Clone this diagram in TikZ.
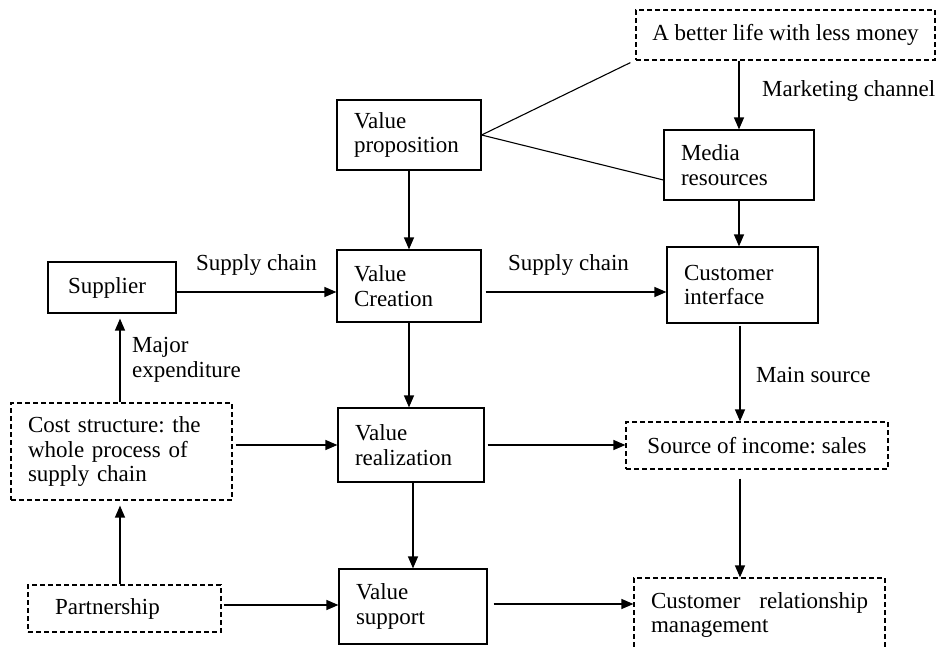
\documentclass[tikz,border=0pt]{standalone}
\usepackage{fontspec}
\setmainfont{Liberation Serif}
\usetikzlibrary{arrows.meta,calc}
\begin{document}
\frenchspacing
\begin{tikzpicture}[x=1pt,y=-1pt,
  font=\fontsize{23}{24.5}\selectfont\frenchspacing,
  box/.style={draw, line width=1.2pt, align=left, inner xsep=17pt, inner ysep=0pt},
  dbox/.style={box, dash pattern=on 5pt off 3pt},
  lbl/.style={inner sep=0pt, align=left, anchor=west},
  arr/.style={-{Triangle[length=12pt,width=10pt]}, line width=1.3pt},
  ln/.style={line width=1.1pt}]
\useasboundingbox (0,0) rectangle (938,646);

% boxes
\node[dbox, minimum width=299pt, minimum height=50pt, inner xsep=0pt] (better) at (785.5,35) {A better life with less money};
\node[box, text width=110pt, minimum height=70pt] (prop) at (409,135) {Value\\proposition};
\node[box, text width=116pt, minimum height=70pt] (media) at (739,165) {Media\\resources};
\node[box, text width=88pt, inner xsep=20pt, minimum height=51pt] (supplier) at (112,287.5) {Supplier};
\node[box, text width=110pt, minimum height=72pt] (creation) at (409,286) {Value\\Creation};
\node[box, text width=117pt, minimum height=76pt] (cinterface) at (742.5,285) {Customer\\interface};
\node[dbox, text width=187pt, minimum height=97pt] (cost) at (121.5,451.5) {Cost structure: the\\whole process of\\supply chain};
\node[box, text width=112pt, minimum height=74pt] (realization) at (411,445) {Value\\realization};
\node[dbox, minimum width=262pt, minimum height=47pt, inner xsep=0pt] (income) at (757,445.5) {Source of income: sales};
\node[dbox, text width=139pt, inner xsep=27pt, minimum height=47pt] (partner) at (124.5,608.5) {Partnership};
\node[box, text width=114pt, minimum height=75pt] (support) at (413,606.5) {Value\\support};
\node[dbox, text width=217pt, align=justify, minimum height=74pt] (crm) at (759.5,615) {Customer relationship management};

% labels
\node[lbl] (lmarket) at (762,91) {Marketing channel};
\node[lbl] (lsupply1) at (196,265) {Supply chain};
\node[lbl] (lsupply2) at (508,265) {Supply chain};
\node[lbl] (lmajor) at (132,360) {Major\\expenditure};
\node[lbl] (lmain) at (756,375) {Main source};

% connectors
\draw[ln] (prop.east) -- ($(better.south west)+(-5,2)$);
\draw[ln] (prop.east) -- ($(media.west)+(0,15)$);
\draw[arr] (better.south -| media.north) -- (media.north);
\draw[arr] (prop.south) -- (prop.south |- creation.north);
\draw[arr] (media.south) -- (media.south |- cinterface.north);
\draw[arr] ($(supplier.east)+(0,4.5)$) coordinate (s1) -- (s1 -| creation.west);
\draw[arr] ($(creation.east)+(4,6)$) coordinate (s2) -- (s2 -| cinterface.west);
\draw[arr, shorten >=5pt] (cost.north -| 120,0) -- (120,0 |- supplier.south);
\draw[arr] (creation.south) -- (creation.south |- realization.north);
\draw[arr] ($(cost.east |- realization.west)+(3,0)$) -- (realization.west);
\draw[arr] ($(realization.east)+(3,0)$) -- (realization.east -| income.west);
\draw[arr, shorten <=2pt] (cinterface.south -| 740,0) -- (740,0 |- income.north);
\draw[arr, shorten <=9pt] (income.south -| 740,0) -- (740,0 |- crm.north);
\draw[arr, shorten >=5pt] (partner.north -| 120,0) -- (120,0 |- cost.south);
\draw[arr] ($(partner.east)+(2,-3.5)$) coordinate (p1) -- (p1 -| support.west);
\draw[arr] (realization.south -| support.north) -- (support.north);
\draw[arr] ($(support.east)+(6,-2.5)$) coordinate (p2) -- (p2 -| crm.west);
\end{tikzpicture}
\end{document}
